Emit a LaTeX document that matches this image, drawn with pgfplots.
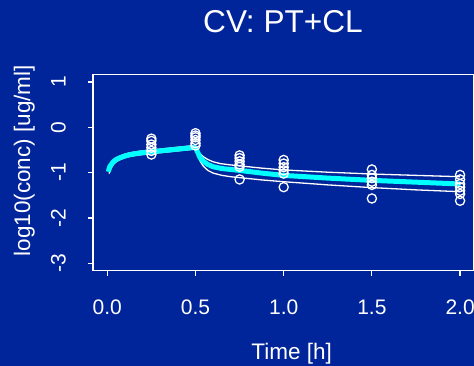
\documentclass[border=0pt]{standalone}
\usepackage{pgfplots}
\pgfplotsset{compat=1.18}
\usepackage{fontspec}
\setmainfont{Liberation Sans}
\definecolor{bg}{RGB}{0,36,153}
\definecolor{cy}{RGB}{0,255,255}
\begin{document}
\begin{tikzpicture}
\fill[bg] (0pt,0pt) rectangle (474pt,366pt);
\path[use as bounding box] (0pt,0pt) rectangle (474pt,366pt);
\begin{axis}[
  at={(93pt,95.3pt)}, anchor=south west,
  scale only axis, width=380.3pt, height=196pt,
  xmin=-0.081, xmax=2.075, ymin=-3.163, ymax=1.161,
  axis line style={white, line width=1.2pt},
  tick style={white, line width=1.2pt},
  tick align=outside, major tick length=5pt,
  xtick pos=lower, ytick pos=left,
  xtick={0,0.5,1,1.5,2}, xticklabels={},
  ytick={-3,-2,-1,0,1}, yticklabels={-3,-2,-1,0,1},
  yticklabel style={white, font=\fontsize{21}{21}\selectfont, rotate=90, anchor=base, inner sep=0pt},
  yticklabel shift=22.3pt,
  clip=false,
]
% upper bound
\addplot[white, line width=1.3pt, smooth] coordinates {
(0.01,-0.94) (0.02,-0.84) (0.03,-0.76) (0.05,-0.68) (0.08,-0.62) (0.12,-0.57) (0.18,-0.53) (0.25,-0.50) (0.35,-0.46) (0.45,-0.42) (0.5,-0.40)
};
\addplot[white, line width=1.3pt] coordinates {
(0.5,-0.40) (0.51,-0.48) (0.525,-0.58) (0.545,-0.65) (0.57,-0.71) (0.6,-0.76) (0.64,-0.80) (0.7,-0.83) (0.75,-0.85) (0.875,-0.90) (1.0,-0.94) (1.25,-0.99) (1.5,-1.03) (1.75,-1.06) (2.0,-1.09)
};
% lower bound
\addplot[white, line width=1.3pt, smooth] coordinates {
(0.01,-1.02) (0.02,-0.92) (0.03,-0.84) (0.05,-0.76) (0.08,-0.70) (0.12,-0.65) (0.18,-0.61) (0.25,-0.58) (0.35,-0.54) (0.45,-0.50) (0.5,-0.48)
};
\addplot[white, line width=1.3pt] coordinates {
(0.5,-0.48) (0.51,-0.58) (0.525,-0.74) (0.545,-0.86) (0.57,-0.95) (0.6,-1.01) (0.65,-1.06) (0.7,-1.09) (0.75,-1.11) (0.875,-1.16) (1.0,-1.20) (1.25,-1.27) (1.5,-1.33) (1.75,-1.38) (2.0,-1.42)
};
% median
\addplot[cy, line width=5pt, smooth] coordinates {
(0.006,-0.98) (0.015,-0.86) (0.03,-0.78) (0.05,-0.71) (0.08,-0.66) (0.12,-0.61) (0.18,-0.57) (0.25,-0.54) (0.35,-0.50) (0.45,-0.46) (0.5,-0.44)
};
\addplot[cy, line width=5pt] coordinates {
(0.5,-0.44) (0.51,-0.53) (0.525,-0.66) (0.545,-0.75) (0.57,-0.82) (0.6,-0.87) (0.65,-0.91) (0.7,-0.93) (0.75,-0.95) (0.875,-1.01) (1.0,-1.06) (1.25,-1.12) (1.5,-1.17) (1.75,-1.21) (2.0,-1.25)
};
% observations
\addplot[only marks, mark=o, white, mark size=4.6pt, line width=1.3pt] table {
x y
0.25 -0.25
0.25 -0.30
0.25 -0.38
0.25 -0.45
0.25 -0.52
0.25 -0.60
0.5 -0.13
0.5 -0.18
0.5 -0.22
0.5 -0.28
0.5 -0.35
0.5 -0.40
0.75 -0.62
0.75 -0.68
0.75 -0.75
0.75 -0.82
0.75 -0.87
0.75 -1.15
1.0 -0.72
1.0 -0.80
1.0 -0.88
1.0 -0.95
1.0 -1.02
1.0 -1.32
1.5 -0.93
1.5 -1.05
1.5 -1.12
1.5 -1.20
1.5 -1.27
1.5 -1.57
2.0 -1.05
2.0 -1.15
2.0 -1.25
2.0 -1.32
2.0 -1.40
2.0 -1.47
2.0 -1.62
};
\end{axis}
\begin{scope}[every node/.style={anchor=base, white, inner sep=0pt, font=\fontsize{21}{21}\selectfont}]
\node at (107.3pt,51pt) {0.0};
\node at (195.5pt,51pt) {0.5};
\node at (283.7pt,51pt) {1.0};
\node at (371.9pt,51pt) {1.5};
\node at (460.1pt,51pt) {2.0};
\end{scope}
\node[anchor=base, white, inner sep=0pt, font=\fontsize{31.6}{32}\selectfont] at (283pt,333.3pt) {CV: PT+CL};
\node[anchor=base, white, inner sep=0pt, font=\fontsize{22.5}{23}\selectfont] at (291.7pt,6pt) {Time [h]};
\node[anchor=base, white, inner sep=0pt, rotate=90, font=\fontsize{22.5}{23}\selectfont] at (30pt,205.2pt) {log10(conc) [ug/ml]};
\end{tikzpicture}
\end{document}
